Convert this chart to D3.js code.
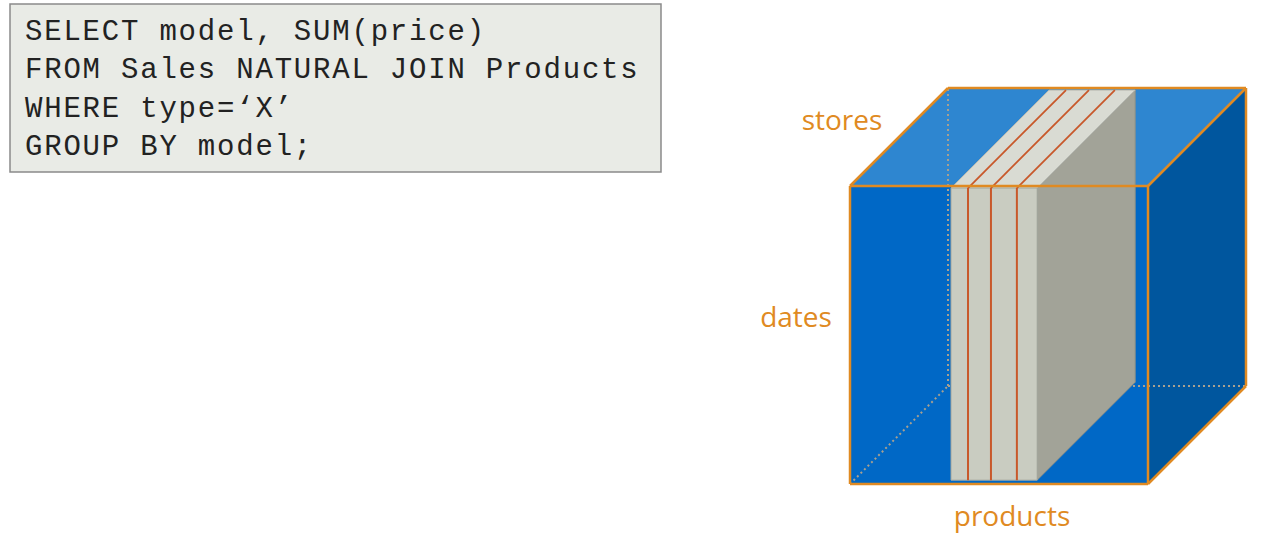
<!DOCTYPE html>
<html><head><meta charset="utf-8">
<script src="https://cdn.jsdelivr.net/npm/d3@7"></script>
<style>body{margin:0;background:#fff}</style>
</head><body>
<svg id="chart" width="1284" height="550"></svg>
<script>
var sqlLines = ["SELECT model, SUM(price)", "FROM Sales NATURAL JOIN Products", "WHERE type=\u2018X\u2019", "GROUP BY model;"];
var axisLabels = ["stores", "dates", "products"];
// cube in unit coordinates: x = products, y = dates, z = stores (depth)
var sliceRange = [0.339, 0.628];    // products slice span (x)
var stripes = [0.396, 0.473, 0.56]; // red lines on slice

var svg = d3.select("#chart");
var x = d3.scaleLinear().domain([0, 1]).range([850, 1148]);
var y = d3.scaleLinear().domain([0, 1]).range([484, 186]);
var dz = 98; // depth offset
function P(px, py, pz) { return [x(px) + pz * dz, y(py) - pz * dz]; }
var line = d3.line();
function poly(pts, fill, stroke, sw) {
  svg.append("path").attr("d", line(pts) + "Z").attr("fill", fill || "none")
    .attr("stroke", stroke || "none").attr("stroke-width", sw || 0).attr("stroke-linejoin", "round");
}
function seg(a, b, stroke, sw, dash) {
  svg.append("path").attr("d", line([a, b])).attr("stroke", stroke).attr("stroke-width", sw)
    .attr("stroke-dasharray", dash || null).attr("fill", "none");
}

// code box
svg.append("rect").attr("x", 10).attr("y", 4).attr("width", 651).attr("height", 168)
  .attr("fill", "#e9ebe6").attr("stroke", "#8a8a8a").attr("stroke-width", 1.5);
svg.selectAll(".sql").data(sqlLines).enter().append("text")
  .attr("x", 25).attr("y", function (d, i) { return 40 + i * 38.3; })
  .attr("font-family", "Liberation Mono, Courier New, monospace").attr("font-size", 29)
  .attr("letter-spacing", 1.8).attr("fill", "#222").attr("xml:space", "preserve")
  .text(function (d) { return d; });

var orange = "#e08a22";
// faces
poly([P(0,1,0), P(1,1,0), P(1,1,1), P(0,1,1)], "#2e86d0");
poly([P(1,0,0), P(1,1,0), P(1,1,1), P(1,0,1)], "#00569e");
poly([P(0,0,0), P(1,0,0), P(1,1,0), P(0,1,0)], "#0068c6");
// hidden edges
var dot = "2,3", gray = "#a8a090";
seg(P(0,0,1), P(0,1,1), gray, 2, dot);
seg(P(0,0,1), P(1,0,1), gray, 2, dot);
seg(P(0,0,0), P(0,0,1), gray, 2, dot);

// slice
var sx0 = sliceRange[0], sx1 = sliceRange[1];
var t = 0.993;
poly([P(sx1,0.013,0), P(sx1,t,0), P(sx1,t,1), P(sx1,0.013,1)], "#a2a398", "#8f9188", 1);
poly([P(sx0,t,0), P(sx1,t,0), P(sx1,t,1), P(sx0,t,1)], "#d9dbd3", "#b8b9b0", 1);
poly([P(sx0,0.013,0), P(sx1,0.013,0), P(sx1,t,0), P(sx0,t,0)], "#c9ccc1", "#a8aa9f", 1);
stripes.forEach(function (s) {
  seg(P(s,0.013,0), P(s,t,0), "#c8582a", 2);
  seg(P(s,t,0), P(s,t,1), "#c8582a", 1.8);
});

// visible edges
var edges = [[P(0,0,0),P(1,0,0)],[P(1,0,0),P(1,1,0)],[P(1,1,0),P(0,1,0)],[P(0,1,0),P(0,0,0)],
  [P(0,1,0),P(0,1,1)],[P(0,1,1),P(1,1,1)],[P(1,1,0),P(1,1,1)],[P(1,1,1),P(1,0,1)],[P(1,0,0),P(1,0,1)]];
edges.forEach(function (e) { seg(e[0], e[1], orange, 2.5); });

// labels
var labelPos = [[842, 130], [796, 327], [1012, 526]];
svg.selectAll(".lab").data(axisLabels).enter().append("text")
  .attr("x", function (d, i) { return labelPos[i][0]; })
  .attr("y", function (d, i) { return labelPos[i][1]; })
  .attr("text-anchor", "middle").attr("font-family", "Open Sans, sans-serif")
  .attr("font-size", 28).attr("fill", orange).text(function (d) { return d; });
</script>
</body></html>
